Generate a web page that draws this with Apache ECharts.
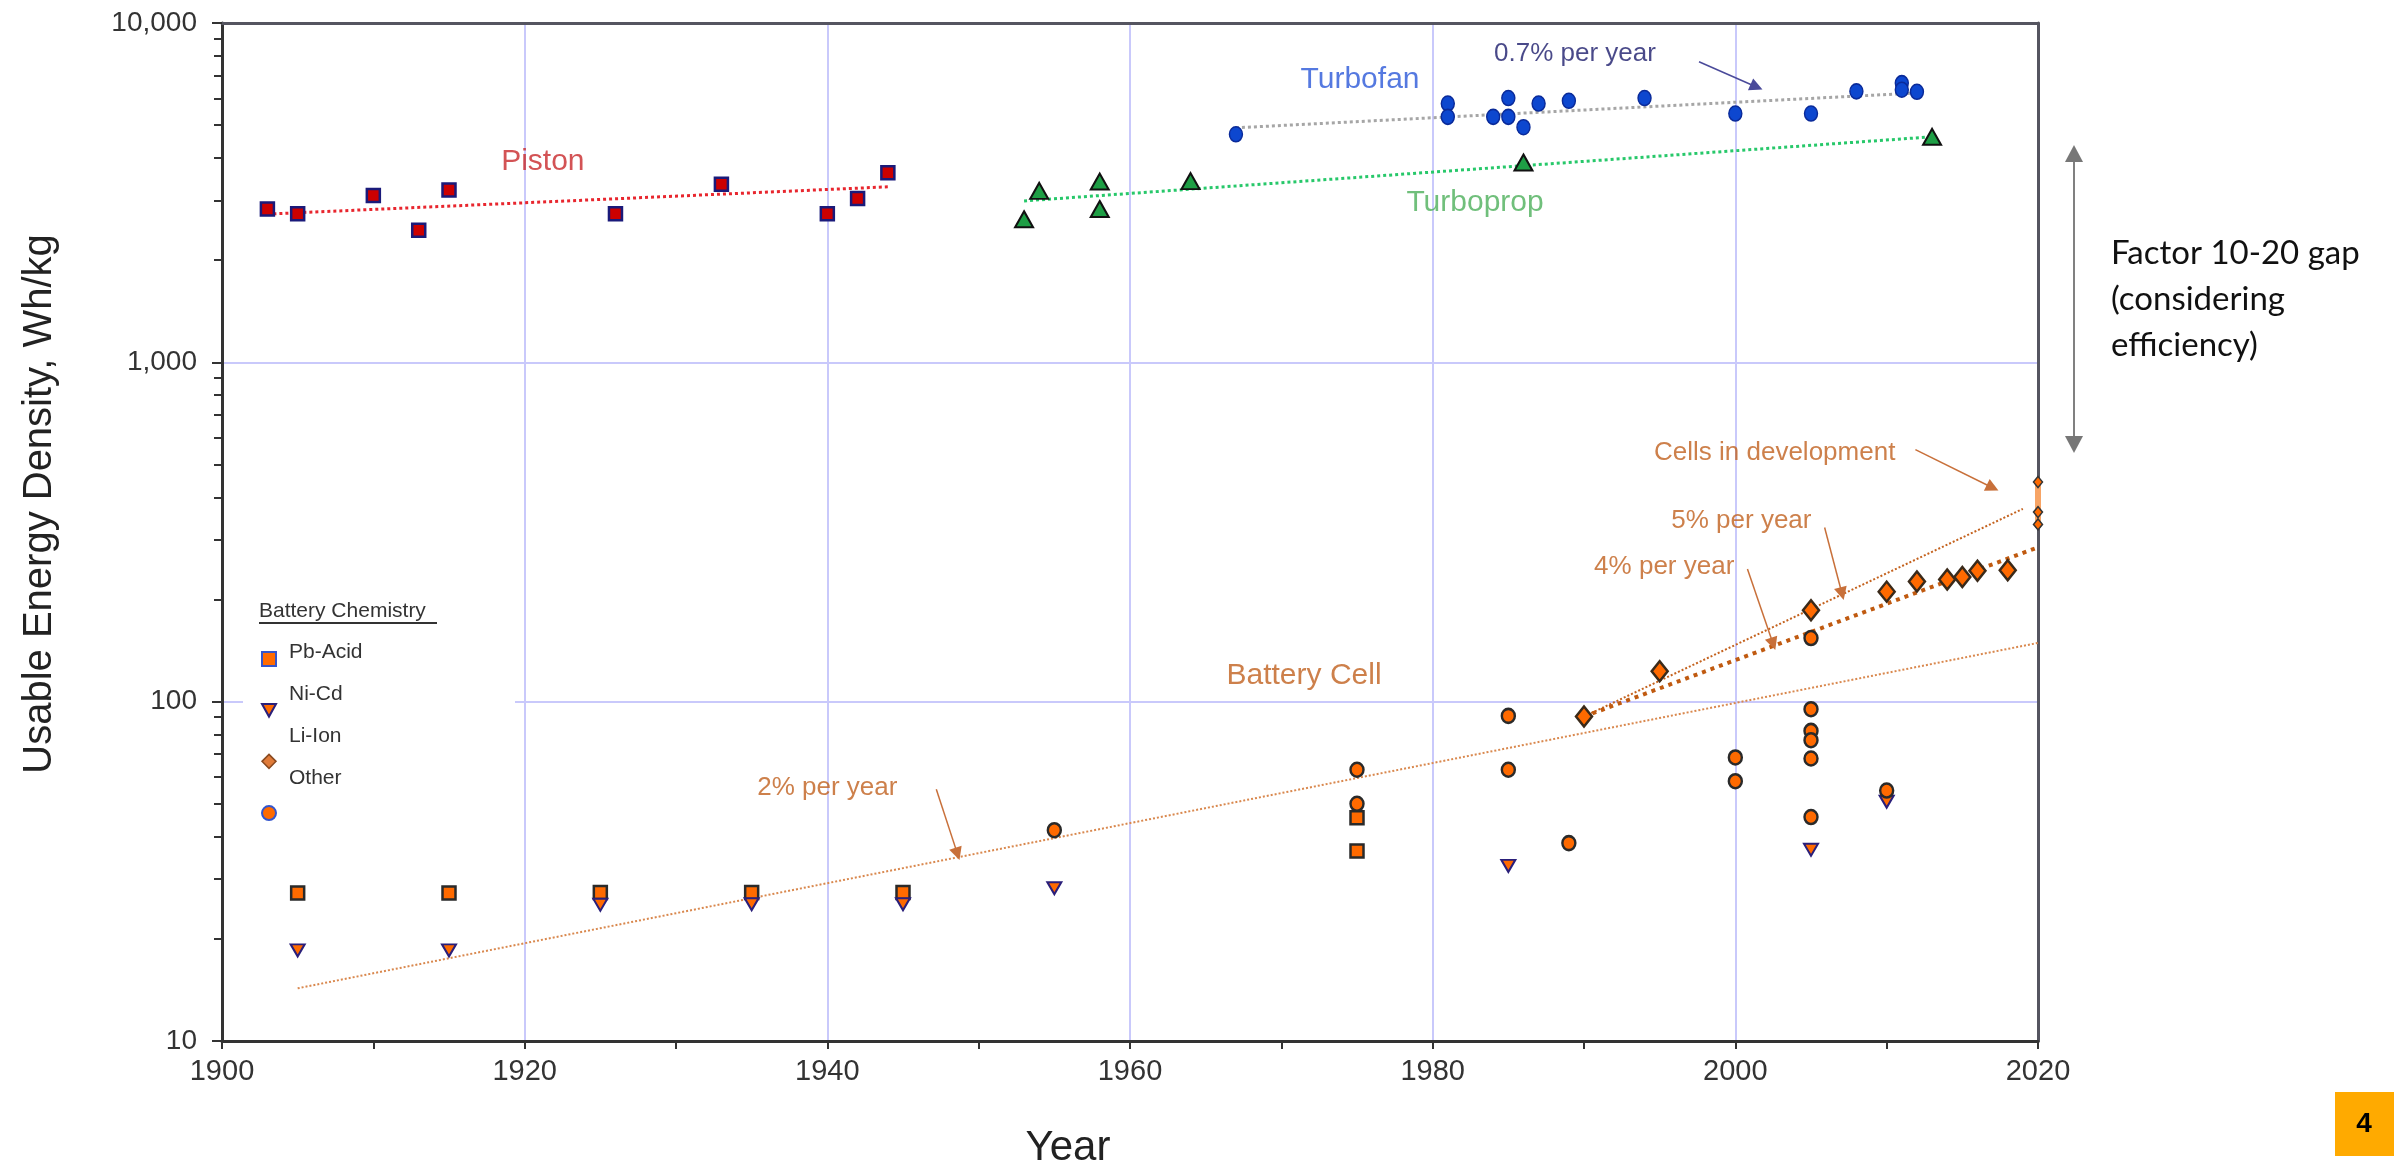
<!DOCTYPE html>
<html>
<head>
<meta charset="utf-8">
<title>Usable energy density, fuels vs battery cells</title>
<script src="https://cdn.jsdelivr.net/npm/echarts@6/dist/echarts.min.js"></script>
<style>
  html, body { margin: 0; padding: 0; background: #fff; }
  #chart { width: 2394px; height: 1174px; }
</style>
</head>
<body>
<div id="chart"></div>
<script>
// [year, Wh/kg]
const pistonPts = [[1903, 2830], [1905, 2740], [1910, 3100], [1913, 2450], [1915, 3220], [1926, 2740], [1933, 3350], [1940, 2740], [1942, 3040], [1944, 3620]];
const turbofanPts = [[1967, 4700], [1981, 5790], [1981, 5290], [1984, 5290], [1985, 6010], [1985, 5290], [1986, 4930], [1987, 5790], [1989, 5900], [1994, 6010], [2000, 5410], [2005, 5410], [2008, 6290], [2011, 6650], [2011, 6360], [2012, 6270]];
const turbopropPts = [[1953, 2640], [1954, 3200], [1958, 3410], [1958, 2830], [1964, 3420], [1986, 3880], [2013, 4620]];

const pbAcidPts = [[1905, 27.3], [1915, 27.3], [1925, 27.4], [1935, 27.4], [1945, 27.4], [1975, 45.5], [1975, 36.3]];
const niCdPts = [[1905, 18.5], [1915, 18.5], [1925, 25.2], [1935, 25.3], [1945, 25.3], [1955, 28.2], [1985, 32.8], [2005, 36.6], [2010, 50.7]];
const liIonPts = [[1990, 90.4], [1995, 123], [2005, 186], [2010, 211], [2012, 226], [2014, 229], [2015, 233], [2016, 243], [2018, 244]];
const otherPts = [[1955, 41.8], [1975, 63], [1975, 50], [1985, 90.8], [1985, 63], [1989, 38.3], [2000, 68.5], [2000, 58.3], [2005, 154], [2005, 95], [2005, 82], [2005, 77], [2005, 68], [2005, 45.7], [2010, 54.7]];
const devCellPts = [[2020, 444], [2020, 362], [2020, 333]];
const devCellRange = [[2020, 444], [2020, 325]];

// fitted trend lines, end points
const pistonTrend = [[1903, 2735], [1944, 3290]];
const turbofanTrend = [[1967, 4910], [2012, 6220]];
const turbopropTrend = [[1953, 2990], [2013, 4620]];
const trend2pct = [[1905, 14.3], [2020, 149]];
const trend5pct = [[1990, 90.4], [2019, 370]];
const trend4pct = [[1990, 90.4], [2020, 285]];

const xTicks = [1900, 1920, 1940, 1960, 1980, 2000, 2020];
const yTicks = [10, 100, 1000, 10000];
const chemistry = ['Pb-Acid', 'Ni-Cd', 'Li-Ion', 'Other'];

// text annotations: [text, year, Wh/kg]
const notes = [
  ['Piston', 1921.2, 3910],
  ['Turbofan', 1975.2, 6800],
  ['0.7% per year', 1989.4, 8110],
  ['Turboprop', 1982.8, 2945],
  ['Battery Cell', 1971.5, 119],
  ['2% per year', 1940.0, 55.9],
  ['Cells in development', 2002.6, 541],
  ['5% per year', 2000.4, 340],
  ['4% per year', 1995.3, 249]
];
// pointer arrows: [from, to]
const arrows = [
  [[1997.6, 7690], [2001.4, 6480]],
  [[2011.9, 553], [2017.0, 427]],
  [[2005.9, 326], [2007.05, 208]],
  [[2000.8, 246], [2002.5, 148]],
  [[1947.2, 55.2], [1948.6, 35.6]]
];

const FONT = '"Liberation Sans", Arial, sans-serif';
const ORANGE = '#ff6a00';
const BROWN = '#c0601e';
const noteStyle = {
  'Piston': ['#c8282a', 30],
  'Turbofan': ['#2a58d8', 30],
  '0.7% per year': ['#1c1c6c', 26],
  'Turboprop': ['#4caf5a', 30]
};
const triDown = 'path://M0,0L10,0L5,9Z';

function trend(name, data, color, width, dash) {
  return {
    name: name, type: 'line', data: data, symbol: 'none', silent: true,
    z: 2, clip: false, lineStyle: { color: color, width: width, type: dash }
  };
}
function points(name, data, symbol, size, color, border, bw) {
  return {
    name: name, type: 'scatter', data: data, symbol: symbol, symbolSize: size, z: 4,
    itemStyle: { color: color, borderColor: border, borderWidth: bw, opacity: 1 }
  };
}

// bare axis used only to draw the dark frame on top / right
const frameLine = { show: true, lineStyle: { color: '#555560', width: 3 } };

const chart = echarts.init(document.getElementById('chart'));

const option = {
  animation: false,
  backgroundColor: '#fff',
  textStyle: { fontFamily: FONT },
  grid: { left: 222, right: 356, top: 23, bottom: 128 },
  xAxis: [
    {
      type: 'value', min: xTicks[0], max: xTicks[xTicks.length - 1], interval: 20,
      name: 'Year', nameLocation: 'middle', nameGap: 86,
      nameTextStyle: { fontSize: 42, color: '#222', padding: [0, 124, 0, 0] },
      axisLine: { lineStyle: { color: '#333', width: 3 } },
      axisTick: { show: true, length: 8, lineStyle: { color: '#333', width: 2 } },
      minorTick: { show: true, splitNumber: 2, length: 8, lineStyle: { color: '#333', width: 2 } },
      axisLabel: { fontSize: 29, color: '#333', margin: 16, formatter: v => String(v) },
      splitLine: { show: true, lineStyle: { color: '#c9c9fb', width: 2 } }
    },
    {
      type: 'value', position: 'top', min: xTicks[0], max: xTicks[xTicks.length - 1],
      axisLine: frameLine, axisTick: { show: false }, axisLabel: { show: false }, splitLine: { show: false }
    }
  ],
  yAxis: [
    {
      type: 'log', logBase: 10, min: yTicks[0], max: yTicks[yTicks.length - 1],
      name: 'Usable Energy Density, Wh/kg', nameLocation: 'middle', nameGap: 162,
      nameTextStyle: { fontSize: 40, color: '#222', padding: [0, 0, 0, 56] },
      axisLine: { lineStyle: { color: '#333', width: 3 } },
      axisTick: { show: true, length: 10, lineStyle: { color: '#333', width: 2 } },
      minorTick: { show: true, splitNumber: 9, length: 8, lineStyle: { color: '#333', width: 2 } },
      axisLabel: { fontSize: 28, color: '#333', margin: 25, formatter: v => Number(v).toLocaleString('en-US') },
      splitLine: { show: true, lineStyle: { color: '#c9c9fb', width: 2 } }
    },
    {
      type: 'log', logBase: 10, position: 'right', min: yTicks[0], max: yTicks[yTicks.length - 1],
      axisLine: frameLine, axisTick: { show: false }, axisLabel: { show: false }, splitLine: { show: false }
    }
  ],
  legend: [
    {
      // symbols, on a white box that hides the grid line behind it
      left: 243, top: 590, orient: 'vertical', selectedMode: false,
      padding: [61, 238, 14, 18], backgroundColor: '#fff',
      itemWidth: 14, itemHeight: 14, itemGap: 36,
      formatter: () => '',
      data: [
        { name: chemistry[0], icon: 'rect', itemStyle: { color: ORANGE, borderColor: '#3355cc', borderWidth: 2 } },
        { name: chemistry[1], icon: triDown, itemStyle: { color: ORANGE, borderColor: '#2a1f7a', borderWidth: 2 } },
        { name: chemistry[2], icon: 'diamond', itemStyle: { color: '#e07b39', borderColor: '#8a4a20', borderWidth: 1.5 } },
        { name: chemistry[3], icon: 'circle', itemStyle: { color: ORANGE, borderColor: '#3355cc', borderWidth: 2 } }
      ]
    },
    {
      // names, set slightly above their symbols as in the source figure
      left: 279, top: 637, orient: 'vertical', selectedMode: false, z: 6,
      icon: 'none', itemWidth: 0, itemHeight: 20, itemGap: 21,
      textStyle: { fontFamily: FONT, fontSize: 21, color: '#333', lineHeight: 20 },
      data: chemistry
    }
  ],
  graphic: [
    { type: 'text', left: 259, top: 601, z: 20,
      style: { text: 'Battery Chemistry', fontFamily: FONT, fontSize: 21, fill: '#333' } },
    { type: 'line', z: 20, shape: { x1: 259, y1: 623, x2: 437, y2: 623 },
      style: { stroke: '#333', lineWidth: 2 } },
    // gap arrow at the right of the plot
    { type: 'line', shape: { x1: 2074, y1: 158, x2: 2074, y2: 440 },
      style: { stroke: '#808080', lineWidth: 2 } },
    { type: 'polygon', shape: { points: [[2074, 145], [2065, 162], [2083, 162]] }, style: { fill: '#777' } },
    { type: 'polygon', shape: { points: [[2074, 453], [2065, 436], [2083, 436]] }, style: { fill: '#777' } },
    { type: 'text', left: 2111, top: 230,
      style: { text: 'Factor 10-20 gap\n(considering\nefficiency)', fontFamily: 'Lato, "Open Sans", sans-serif',
        fontSize: 33, lineHeight: 46, fill: '#111' } },
    // slide number
    { type: 'rect', shape: { x: 2335, y: 1092, width: 59, height: 64 }, style: { fill: '#ffaa00' } },
    { type: 'text', x: 2364, y: 1124,
      style: { text: '4', fontFamily: FONT, fontWeight: 'bold', fontSize: 28, fill: '#000',
        align: 'center', verticalAlign: 'middle' } }
  ],
  series: [
    trend('pistonTrend', pistonTrend, '#e8262e', 3, 'dotted'),
    trend('turbofanTrend', turbofanTrend, '#a6a6a6', 3, 'dotted'),
    trend('turbopropTrend', turbopropTrend, '#27c86a', 3, 'dotted'),
    trend('trend2', trend2pct, '#d9884e', 2, 'dotted'),
    trend('trend5', trend5pct, '#c4621e', 2, 'dotted'),
    trend('trend4', trend4pct, '#c05a10', 4, [4, 5]),
    Object.assign(trend('devRange', devCellRange, '#f7a465', 6, 'solid'), { z: 3 }),

    points('Piston', pistonPts, 'rect', 13, '#cc0000', '#1a1a7a', 2.5),
    points('Turbofan', turbofanPts, 'circle', [13, 15], '#0d47cf', '#0a2a99', 1.5),
    points('Turboprop', turbopropPts, 'triangle', [18, 16], '#1e9e45', '#111', 2),

    points(chemistry[0], pbAcidPts, 'rect', 13, ORANGE, '#2a2a2a', 2.5),
    points(chemistry[1], niCdPts, triDown, [14, 12], ORANGE, '#2a1f7a', 2),
    points(chemistry[2], liIonPts, 'diamond', [16, 20], ORANGE, '#3a2a1a', 2.5),
    points(chemistry[3], otherPts, 'circle', [13, 14], ORANGE, '#2a2a2a', 2.5),
    Object.assign(points('In development', devCellPts, 'diamond', [9, 11], ORANGE, '#333', 1.5), { clip: false }),

    {
      name: 'notes', type: 'scatter', silent: true, z: 6, clip: false,
      symbolSize: 1, itemStyle: { color: 'rgba(0,0,0,0)' },
      data: notes.map(n => {
        const st = noteStyle[n[0]] || [BROWN, n[0] === 'Battery Cell' ? 30 : 26];
        return {
          value: [n[1], n[2]],
          label: { show: true, position: 'inside', formatter: n[0],
            color: st[0], fontSize: st[1], fontFamily: FONT }
        };
      }),
      markLine: {
        silent: true, animation: false,
        symbol: ['none', 'triangle'], symbolSize: 13,
        label: { show: false },
        data: arrows.map((a, i) => [
          { coord: a[0], lineStyle: { color: i === 0 ? '#4a4a9a' : '#c8703a', width: 1.5, type: 'solid' },
            itemStyle: { color: i === 0 ? '#1c1c6c' : '#b8561a' } },
          { coord: a[1] }
        ])
      }
    }
  ]
};

chart.setOption(option);
</script>
</body>
</html>
